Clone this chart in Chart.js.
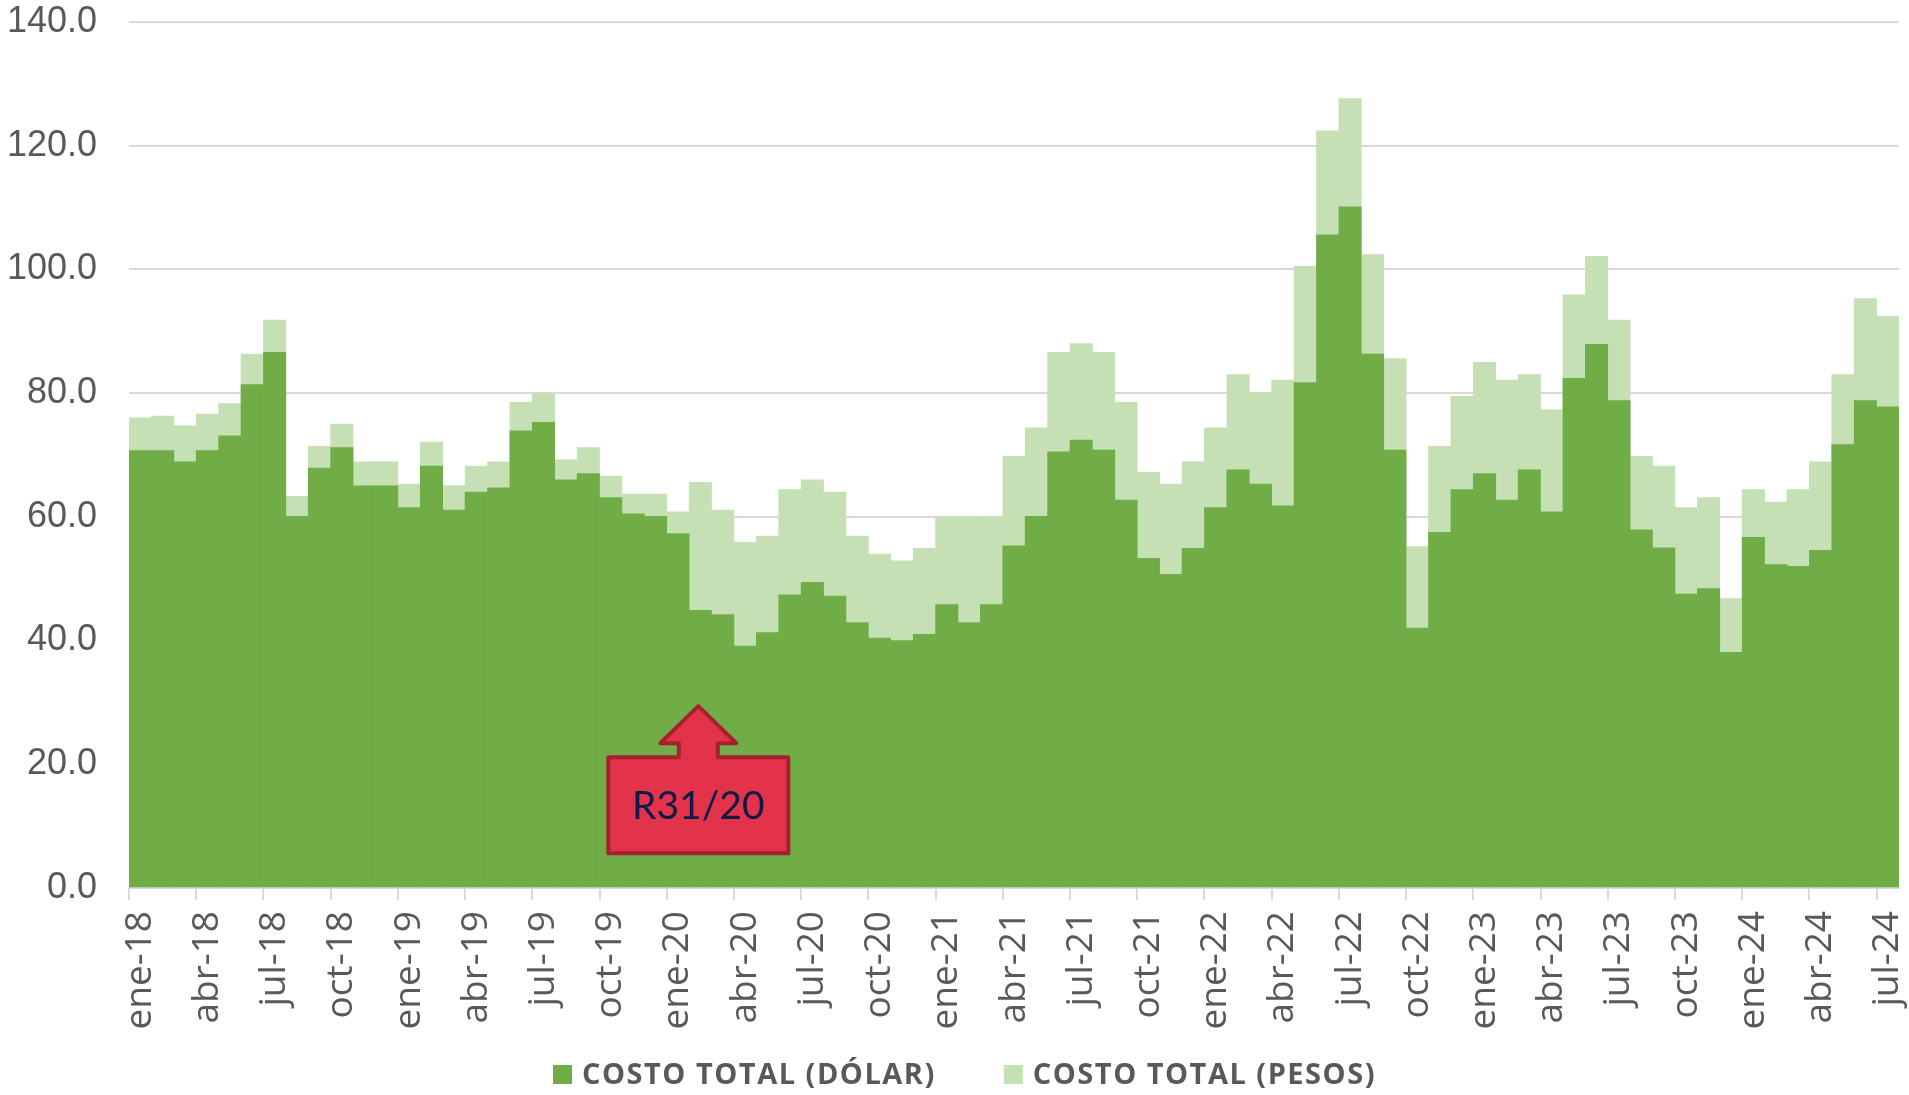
<!DOCTYPE html>
<html lang="es">
<head>
<meta charset="utf-8">
<title>Costo total</title>
<script src="https://cdn.jsdelivr.net/npm/chart.js@4/dist/chart.umd.min.js"></script>
<style>
    html, body { margin: 0; padding: 0; background: #ffffff; }
    #wrap { position: relative; width: 1909px; height: 1095px; }
</style>
</head>
<body>
<div id="wrap"><canvas id="costoChart"></canvas></div>
<script>
// Meses en eje x: ene-18 a jul-24
var meses = ['ene', 'feb', 'mar', 'abr', 'may', 'jun', 'jul', 'ago', 'sep', 'oct', 'nov', 'dic'];
var anios = ['18', '19', '20', '21', '22', '23', '24'];
var ultimoMes = 'jul-24';

var etiquetas = [];
anios.forEach(a => meses.forEach(m => etiquetas.push(m + '-' + a)));
etiquetas = etiquetas.slice(0, etiquetas.indexOf(ultimoMes) + 1);

var costoDolar = [
    70.7, 70.7, 68.9, 70.7, 73.1, 81.4, 86.6, 60.1, 67.9, 71.2, 65.0, 65.0,
    61.5, 68.2, 61.1, 64.0, 64.7, 73.9, 75.3, 66.0, 67.0, 63.1, 60.5, 60.1,
    57.3, 44.9, 44.2, 39.1, 41.3, 47.4, 49.4, 47.2, 42.9, 40.4, 40.0, 41.0,
    45.8, 42.9, 45.8, 55.3, 60.1, 70.5, 72.4, 70.8, 62.7, 53.3, 50.7, 54.9,
    61.5, 67.6, 65.3, 61.8, 81.7, 105.6, 110.1, 86.3, 70.8, 42.0, 57.5, 64.4,
    67.0, 62.7, 67.6, 60.8, 82.4, 87.9, 78.8, 57.9, 55.0, 47.5, 48.4, 38.1,
    56.7, 52.3, 52.0, 54.6, 71.7, 78.8, 77.8
];

var costoPesos = [
    76.0, 76.3, 74.7, 76.6, 78.3, 86.3, 91.8, 63.3, 71.4, 75.0, 68.9, 68.9,
    65.3, 72.1, 65.0, 68.2, 68.9, 78.5, 79.9, 69.2, 71.2, 66.6, 63.7, 63.7,
    60.8, 65.6, 61.1, 55.9, 56.9, 64.4, 66.0, 64.0, 56.9, 54.0, 52.9, 54.9,
    60.0, 60.1, 60.0, 69.8, 74.4, 86.6, 88.0, 86.6, 78.5, 67.2, 65.3, 68.9,
    74.4, 83.0, 80.1, 82.1, 100.5, 122.4, 127.6, 102.4, 85.6, 55.2, 71.4, 79.5,
    85.0, 82.1, 83.0, 77.3, 95.9, 102.1, 91.8, 69.8, 68.2, 61.5, 63.1, 46.8,
    64.4, 62.4, 64.4, 68.9, 83.0, 95.3, 92.4
];

var ticksY = [0, 20, 40, 60, 80, 100, 120, 140];

// Recuadro con flecha (resolución)
var calloutTexto = 'R31/20';
var calloutMes = 'feb-20';
var calloutValor = 29.4;

var GRIS = '#595959';
var GRID = '#D9D9D9';

var calloutPlugin = {
    id: 'callout',
    afterDatasetsDraw(chart) {
        var ctx = chart.ctx;
        var cx = chart.scales.x.getPixelForValue(etiquetas.indexOf(calloutMes)) - 2;
        var tip = chart.scales.y.getPixelForValue(calloutValor);

        ctx.save();
        ctx.beginPath();
        ctx.moveTo(cx, tip);
        ctx.lineTo(cx + 38, tip + 37);
        ctx.lineTo(cx + 19.5, tip + 37);
        ctx.lineTo(cx + 19.5, tip + 51);
        ctx.lineTo(cx + 90, tip + 51);
        ctx.lineTo(cx + 90, tip + 147);
        ctx.lineTo(cx - 90, tip + 147);
        ctx.lineTo(cx - 90, tip + 51);
        ctx.lineTo(cx - 19.5, tip + 51);
        ctx.lineTo(cx - 19.5, tip + 37);
        ctx.lineTo(cx - 38, tip + 37);
        ctx.closePath();
        ctx.fillStyle = '#E2334A';
        ctx.fill();
        ctx.lineWidth = 4;
        ctx.lineJoin = 'round';
        ctx.strokeStyle = '#A8202F';
        ctx.stroke();

        ctx.fillStyle = '#0D1B45';
        ctx.font = '39px Lato, "Open Sans", sans-serif';
        ctx.textAlign = 'center';
        ctx.textBaseline = 'middle';
        ctx.fillText(calloutTexto, cx, tip + 100);
        ctx.restore();
    }
};

// Leyenda al pie, dibujada a mano para fijar su posición
var leyendaPlugin = {
    id: 'leyenda',
    afterDraw(chart) {
        var ctx = chart.ctx;
        var caja = 19, sep = 10, entre = 68;
        ctx.save();
        ctx.font = 'bold 29px "Open Sans", sans-serif';
        ctx.letterSpacing = '1.5px';
        var items = chart.data.datasets.map(d => ({
            texto: d.label,
            color: d.backgroundColor,
            ancho: ctx.measureText(d.label).width
        }));
        var total = items.reduce((s, it) => s + caja + sep + it.ancho, 0) + entre * (items.length - 1);
        var x = chart.width / 2 + 10 - total / 2;
        var y = chart.height - 20.5;
        ctx.textBaseline = 'middle';
        ctx.textAlign = 'left';
        items.forEach(it => {
            ctx.fillStyle = it.color;
            ctx.fillRect(x, y - caja / 2, caja, caja);
            ctx.fillStyle = GRIS;
            ctx.fillText(it.texto, x + caja + sep, y + 1);
            x += caja + sep + it.ancho + entre;
        });
        ctx.restore();
    }
};

var ctx = document.getElementById('costoChart').getContext('2d');
new Chart(ctx, {
    type: 'bar',
    data: {
        labels: etiquetas,
        datasets: [{
            label: 'COSTO TOTAL (DÓLAR)',
            data: costoDolar,
            backgroundColor: '#70AD47',
            borderWidth: 0,
            categoryPercentage: 1,
            barPercentage: 1
        }, {
            label: 'COSTO TOTAL (PESOS)',
            data: costoPesos,
            backgroundColor: '#C5E0B4',
            borderWidth: 0,
            categoryPercentage: 1,
            barPercentage: 1
        }]
    },
    options: {
        responsive: true,
        maintainAspectRatio: false,
        animation: false,
        layout: { padding: { top: 22, right: 10, bottom: 65, left: 0 } },
        plugins: {
            legend: { display: false },
            tooltip: { enabled: false }
        },
        scales: {
            x: {
                stacked: true,
                grid: {
                    offset: true,
                    drawOnChartArea: false,
                    tickLength: 12,
                    lineWidth: 2,
                    color: c => (c.index % 3 === 0 ? GRID : 'rgba(0,0,0,0)'),
                    tickColor: c => (c.index % 3 === 0 ? GRID : 'rgba(0,0,0,0)')
                },
                border: { color: GRID, width: 2 },
                ticks: {
                    autoSkip: false,
                    minRotation: 90,
                    maxRotation: 90,
                    padding: 11,
                    color: GRIS,
                    font: { family: '"Open Sans", sans-serif', size: 37 },
                    callback: (v, i) => (i % 3 === 0 ? etiquetas[i] : '')
                },
                afterFit(scale) {
                    scale.height = 142;
                    scale.paddingLeft = 0;
                    scale.paddingRight = 0;
                }
            },
            y: {
                stacked: false,
                min: ticksY[0],
                max: ticksY[ticksY.length - 1],
                afterBuildTicks(scale) { scale.ticks = ticksY.map(v => ({ value: v })); },
                grid: { color: GRID, lineWidth: 2, drawTicks: false },
                border: { display: false },
                ticks: {
                    padding: 32,
                    color: GRIS,
                    font: { family: '"Liberation Sans", Arial, sans-serif', size: 36 },
                    callback: v => v.toFixed(1)
                },
                afterFit(scale) {
                    scale.width = 129;
                    scale.paddingTop = 0;
                    scale.paddingBottom = 0;
                }
            }
        }
    },
    plugins: [calloutPlugin, leyendaPlugin]
});
</script>
</body>
</html>
